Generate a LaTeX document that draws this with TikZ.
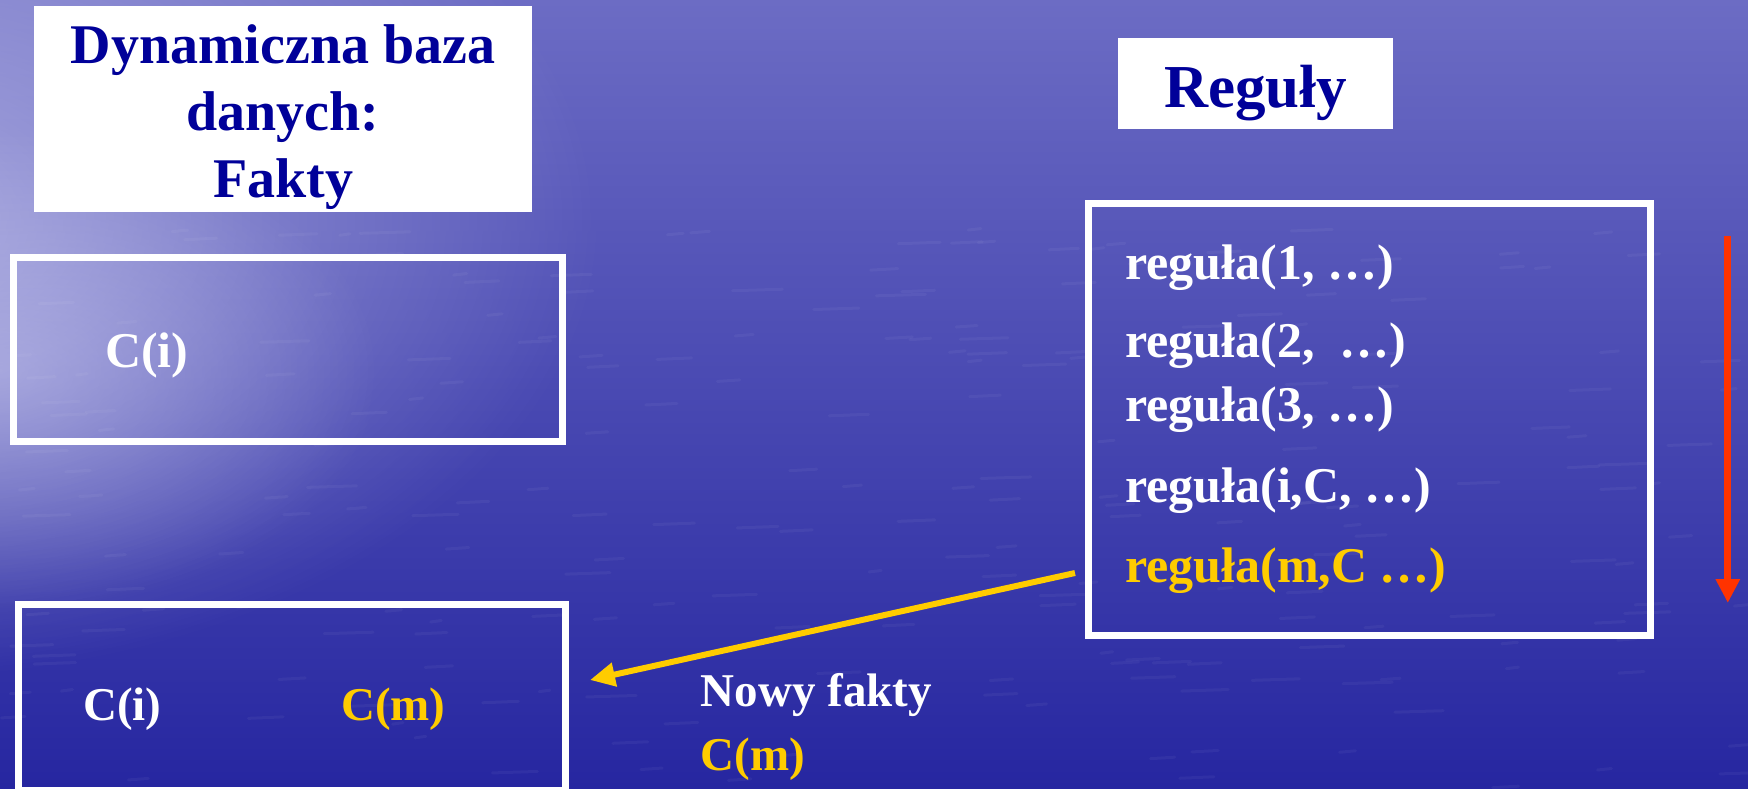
\documentclass[tikz,border=0pt]{standalone}
\usepackage{fontspec}
\setmainfont{Liberation Serif}
\usetikzlibrary{arrows.meta,fadings}

\definecolor{seatop}{RGB}{108,108,196}
\definecolor{seamid}{RGB}{62,62,178}
\definecolor{seadeep}{RGB}{38,38,160}
\definecolor{seaglow}{RGB}{215,215,244}
\definecolor{titleblue}{RGB}{0,0,153}
\definecolor{factyellow}{RGB}{255,204,0}
\definecolor{orderred}{RGB}{255,51,0}

\tikzfading[name=hband, top color=transparent!100, middle color=transparent!0, bottom color=transparent!100]
\tikzfading[name=softglow, inner color=transparent!0, outer color=transparent!100]

\begin{document}
\begin{tikzpicture}[x=1pt, y=-1pt,
  framebox/.style={rectangle, draw=white, line width=7pt, inner sep=0pt},
  labelbox/.style={rectangle, fill=white, inner sep=0pt},
  headtext/.style={inner sep=0pt, anchor=base, text=titleblue, font=\bfseries\fontsize{56}{67}\selectfont},
  ruletext/.style={inner sep=0pt, anchor=base west, text=white, font=\bfseries\fontsize{50}{60}\selectfont},
  facttext/.style={inner sep=0pt, anchor=base west, text=white, font=\bfseries\fontsize{47}{56}\selectfont},
  newarrow/.style={draw=factyellow, line width=6pt, -{Triangle[length=25pt,width=23pt]}},
  orderarrow/.style={draw=orderred, line width=7pt, -{Triangle[length=24pt,width=23pt]}}
]
\useasboundingbox (0,0) rectangle (1748,788);

% sea background: darker towards the bottom, light haze on the left
\shade[top color=seatop, middle color=seamid, bottom color=seadeep] (0,0) rectangle (1748,788);
\fill[seaglow, opacity=0.6, path fading=softglow] (-120,220) ellipse [x radius=720, y radius=460];
\fill[seaglow, opacity=0.45, path fading=softglow] (0,370) ellipse [x radius=380, y radius=240];
\fill[white, opacity=0.5, path fading=hband] (0,0) rectangle (1748,46);
% ripples on the water
\pgfmathsetseed{11}
\foreach \k in {1,...,220}{
  \pgfmathsetmacro\rx{rnd*1748}
  \pgfmathsetmacro\ry{230+rnd*558}
  \pgfmathsetmacro\rl{10+rnd*40}
  \draw[white, opacity=0.045, line width=3pt, line cap=round] (\rx,\ry) -- ++(\rl,-1.5);
}

% heading: dynamic fact base
\node[labelbox, minimum width=498pt, minimum height=206pt] (factsHead) at (283,109) {};
\node[headtext] (factsHeadA) at (283,63) {Dynamiczna baza};
\node[headtext] (factsHeadB) at (283,130) {danych:};
\node[headtext] (factsHeadC) at (283,197) {Fakty};

% heading: rules
\node[labelbox, minimum width=275pt, minimum height=91pt] (rulesHead) at (1255.5,83.5) {};
\node[headtext, font=\bfseries\fontsize{61}{70}\selectfont] (rulesHeadT) at (1255.5,107) {Reguły};

% fact base before
\node[framebox, minimum width=549pt, minimum height=184.5pt] (factsOld) at (287.5,349.25) {};
\node[ruletext] (oldCi) at (105,367) {C(i)};

% rule list
\node[framebox, minimum width=562pt, minimum height=431.5pt] (rules) at (1369,419.25) {};
\node[ruletext] (rule1) at (1125,279) {reguła(1, …)};
\node[ruletext] (rule2) at (1125,357) {reguła(2,\ \ …)};
\node[ruletext] (rule3) at (1125,421) {reguła(3, …)};
\node[ruletext] (ruleI) at (1125,502) {reguła(i,C, …)};
\node[ruletext, text=factyellow] (ruleM) at (1125,582) {reguła(m,C …)};

% fact base after
\node[framebox, minimum width=547.5pt, minimum height=185.5pt] (factsNew) at (291.75,697.25) {};
\node[facttext] (newCi) at (83,720.7) {C(i)};
\node[facttext, text=factyellow] (newCm) at (341,720.7) {C(m)};

% new fact label
\node[facttext] (newLabel) at (700.7,706) {Nowy fakty};
\node[facttext, text=factyellow] (newLabelC) at (700.7,770.7) {C(m)};

% connectors
\coordinate (fireStart) at (1075,573);
\coordinate (fireEnd) at (590,680);
\draw[newarrow] (fireStart) -- (fireEnd);

\coordinate (orderTop) at (1727.8,236);
\coordinate (orderBottom) at (1727.8,603);
\draw[orderarrow] (orderTop) -- (orderBottom);
\end{tikzpicture}
\end{document}
